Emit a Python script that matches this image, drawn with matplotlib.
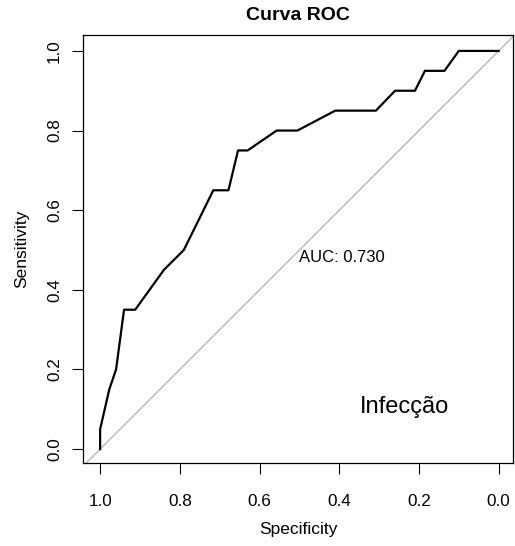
import matplotlib.pyplot as plt
import numpy as np

# ROC curve (specificity, sensitivity)
specificity = [1.0, 1.0, 0.977, 0.96, 0.94, 0.912, 0.84, 0.79, 0.716, 0.678,
               0.654, 0.63, 0.557, 0.505, 0.41, 0.308, 0.26, 0.21, 0.185,
               0.136, 0.10, 0.0]
sensitivity = [0.0, 0.05, 0.15, 0.20, 0.35, 0.35, 0.45, 0.50, 0.65, 0.65,
               0.75, 0.75, 0.80, 0.80, 0.85, 0.85, 0.90, 0.90, 0.95,
               0.95, 1.0, 1.0]
auc = 0.730
ticks = [1.0, 0.8, 0.6, 0.4, 0.2, 0.0]

plt.rcParams['font.family'] = ['Liberation Sans', 'DejaVu Sans']

fig = plt.figure(figsize=(5.15, 5.46), dpi=100)
ax = fig.add_axes([83/515, 83/546, 430/515, 428/546])

# chance line
ax.plot([1.1, -0.1], [-0.1, 1.1], color="#b0b0b0", lw=0.9)
ax.plot(specificity, sensitivity, color="black", lw=1.6)

ax.set_xlim(1.043, -0.036)
ax.set_ylim(-0.035, 1.04)

ax.set_xticks(ticks)
ax.set_xticklabels(["%.1f" % t for t in ticks])
ax.set_yticks(ticks)
ax.set_yticklabels(["%.1f" % t for t in ticks], rotation=90, va="center")
ax.tick_params(axis="x", length=8, width=0.8, pad=14.5, labelsize=12.3)
ax.tick_params(axis="y", length=8, width=0.8, pad=7, labelsize=12.3)
for s in ax.spines.values():
    s.set_linewidth(0.9)

ax.text(0.5, 0.5, "AUC: %.3f" % auc, ha="left", va="top", fontsize=12)
ax.text(0.237, 0.105, "Infecção", ha="center", va="center", fontsize=17)

ax.set_title("Curva ROC", fontweight="bold", fontsize=14, pad=10.5)
ax.set_xlabel("Specificity", fontsize=12.5, labelpad=9)
ax.set_ylabel("Sensitivity", fontsize=12.5, labelpad=13)

plt.savefig("out.png", dpi=100)
